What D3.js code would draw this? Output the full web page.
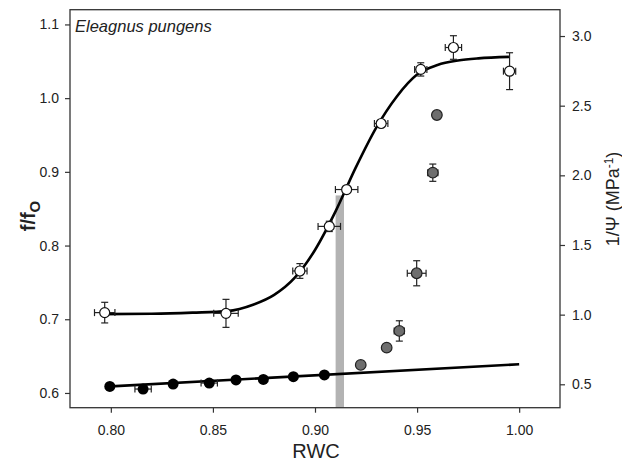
<!DOCTYPE html>
<html><head><meta charset="utf-8">
<script src="https://cdn.jsdelivr.net/npm/d3@7"></script>
<style>body{margin:0;background:#fff}svg{display:block}text{font-family:"Liberation Sans",Arial,sans-serif;fill:#222}</style>
</head><body><svg id="c" width="622" height="463"></svg>
<script>
// f/f0 open circles (left axis)
const openRWC  = [0.797, 0.8564, 0.8926, 0.907, 0.9155, 0.9324, 0.9518, 0.9678, 0.9953];
const openF    = [0.709, 0.708, 0.7655, 0.826, 0.876, 0.9656, 1.039, 1.0687, 1.0366];
const openXErr = [0.005, 0.006, 0.0035, 0.0055, 0.0055, 0.0033, 0.003, 0.004, 0.003];
const openYErr = [0.014, 0.019, 0.010, 0.007, 0.000, 0.004, 0.009, 0.016, 0.025];
// fitted sigmoid curve
const fitRWC = [0.796, 0.82, 0.84, 0.857, 0.87, 0.88, 0.89, 0.90, 0.91, 0.92, 0.93, 0.94, 0.95, 0.96, 0.97, 0.98, 0.995];
const fitF   = [0.707, 0.7075, 0.709, 0.711, 0.720, 0.733, 0.756, 0.794, 0.846, 0.906, 0.960, 1.002, 1.032, 1.045, 1.051, 1.054, 1.056];
// 1/Psi black points (right axis)
const blackRWC = [0.7995, 0.8158, 0.8305, 0.8482, 0.8613, 0.8747, 0.8894, 0.9046];
const blackPsi = [0.485, 0.466, 0.502, 0.509, 0.531, 0.535, 0.555, 0.567];
const blackXErr = [0, 0.004, 0, 0.004, 0, 0, 0, 0];
// 1/Psi gray points (right axis)
const grayRWC  = [0.9224, 0.9351, 0.9413, 0.9498, 0.9577, 0.9597];
const grayPsi  = [0.639, 0.763, 0.883, 1.297, 2.019, 2.433];
const grayXErr = [0, 0, 0.0025, 0.0046, 0.0025, 0];
const grayYErr = [0, 0, 0.073, 0.09, 0.062, 0];
// linear fit line (right axis)
const lineRWC = [0.80, 1.00];
const linePsi = [0.485, 0.644];
// shaded band
const bandRWC = [0.9101, 0.9142];
const bandTop = 0.868;
const xTicks = [0.80, 0.85, 0.90, 0.95, 1.00];
const yLTicks = [0.6, 0.7, 0.8, 0.9, 1.0, 1.1];
const yRTicks = [0.5, 1.0, 1.5, 2.0, 2.5, 3.0];

const L = 70, R = 560, T = 9.7, B = 407.7;
const svg = d3.select("#c");
const x = d3.scaleLinear().domain([0.78, 1.02]).range([L, R]);
const yL = d3.scaleLinear().domain([0.58, 1.12]).range([B, T]);
const yR = d3.scaleLinear().domain([0.332, 3.189]).range([B, T]);

// band
svg.append("rect").attr("x", x(bandRWC[0])).attr("width", x(bandRWC[1]) - x(bandRWC[0]))
  .attr("y", yL(bandTop)).attr("height", B - yL(bandTop)).attr("fill", "#b3b3b3");

// axes
function styleAxis(g){
  g.selectAll(".domain").remove();
  g.selectAll(".tick line").attr("stroke", "#333").attr("stroke-width", 1.2);
  g.selectAll(".tick text").attr("font-size", 14).style("font-family", '"Liberation Sans",Arial,sans-serif').attr("fill", "#222");
}
svg.append("g").attr("transform", `translate(0,${B})`)
  .call(d3.axisBottom(x).tickValues(xTicks).tickFormat(d3.format(".2f")).tickSize(5).tickPadding(12)).call(styleAxis);
svg.append("g").attr("transform", `translate(${L},0)`)
  .call(d3.axisLeft(yL).tickValues(yLTicks).tickFormat(d3.format(".1f")).tickSize(5).tickPadding(6)).call(styleAxis);
svg.append("g").attr("transform", `translate(${R},0)`)
  .call(d3.axisRight(yR).tickValues(yRTicks).tickFormat(d3.format(".1f")).tickSize(5).tickPadding(7)).call(styleAxis);
svg.append("rect").attr("x", L).attr("y", T).attr("width", R - L).attr("height", B - T)
  .attr("fill", "none").attr("stroke", "#333").attr("stroke-width", 1.3);

// lines
const fitData = fitRWC.map((d, i) => [d, fitF[i]]);
svg.append("path").datum(fitData)
  .attr("d", d3.line().x(d => x(d[0])).y(d => yL(d[1])).curve(d3.curveMonotoneX))
  .attr("fill", "none").attr("stroke", "#000").attr("stroke-width", 2.6);
const lineData = lineRWC.map((d, i) => [d, linePsi[i]]);
svg.append("path").datum(lineData)
  .attr("d", d3.line().x(d => x(d[0])).y(d => yR(d[1])))
  .attr("fill", "none").attr("stroke", "#000").attr("stroke-width", 2.6);

// error bars helper
function errBars(xs, ys, xe, ye, yScale){
  const g = svg.append("g").attr("stroke", "#222").attr("stroke-width", 1.2).attr("fill", "none");
  xs.forEach((xv, i) => {
    const cx = x(xv), cy = yScale(ys[i]);
    if (xe[i] > 0) {
      const x1 = x(xv - xe[i]), x2 = x(xv + xe[i]);
      g.append("line").attr("x1", x1).attr("x2", x2).attr("y1", cy).attr("y2", cy);
      g.append("line").attr("x1", x1).attr("x2", x1).attr("y1", cy - 3.5).attr("y2", cy + 3.5);
      g.append("line").attr("x1", x2).attr("x2", x2).attr("y1", cy - 3.5).attr("y2", cy + 3.5);
    }
    if (ye[i] > 0) {
      const y1 = yScale(ys[i] + ye[i]), y2 = yScale(ys[i] - ye[i]);
      g.append("line").attr("x1", cx).attr("x2", cx).attr("y1", y1).attr("y2", y2);
      g.append("line").attr("x1", cx - 3.5).attr("x2", cx + 3.5).attr("y1", y1).attr("y2", y1);
      g.append("line").attr("x1", cx - 3.5).attr("x2", cx + 3.5).attr("y1", y2).attr("y2", y2);
    }
  });
}
errBars(openRWC, openF, openXErr, openYErr, yL);
errBars(blackRWC, blackPsi, blackXErr, blackRWC.map(() => 0), yR);
errBars(grayRWC, grayPsi, grayXErr, grayYErr, yR);

// points
svg.append("g").selectAll("circle").data(openRWC).join("circle")
  .attr("cx", d => x(d)).attr("cy", (d, i) => yL(openF[i])).attr("r", 5)
  .attr("fill", "#fff").attr("stroke", "#111").attr("stroke-width", 1.2);
svg.append("g").selectAll("circle").data(blackRWC).join("circle")
  .attr("cx", d => x(d)).attr("cy", (d, i) => yR(blackPsi[i])).attr("r", 5.5)
  .attr("fill", "#000");
svg.append("g").selectAll("circle").data(grayRWC).join("circle")
  .attr("cx", d => x(d)).attr("cy", (d, i) => yR(grayPsi[i])).attr("r", 5.3)
  .attr("fill", "#6e6e6e").attr("stroke", "#222").attr("stroke-width", 1.2);

// texts
svg.append("text").attr("x", 75).attr("y", 32).attr("font-size", 16.5).attr("font-style", "italic")
  .text("Eleagnus pungens");
svg.append("text").attr("x", 316).attr("y", 458).attr("text-anchor", "middle").attr("font-size", 20).text("RWC");
const lt = svg.append("text").attr("transform", "translate(35,216) rotate(-90)").attr("text-anchor", "middle")
  .attr("font-size", 20).attr("font-weight", "bold");
lt.append("tspan").text("f/f");
lt.append("tspan").attr("font-size", 15).attr("dy", 5).text("O");
const rt = svg.append("text").attr("transform", "translate(618.5,199) rotate(-90)").attr("text-anchor", "middle")
  .attr("font-size", 18);
rt.append("tspan").text("1/\u03A8 (MPa");
rt.append("tspan").attr("font-size", 12).attr("dy", -6).text("-1");
rt.append("tspan").attr("dy", 6).text(")");
</script></body></html>
